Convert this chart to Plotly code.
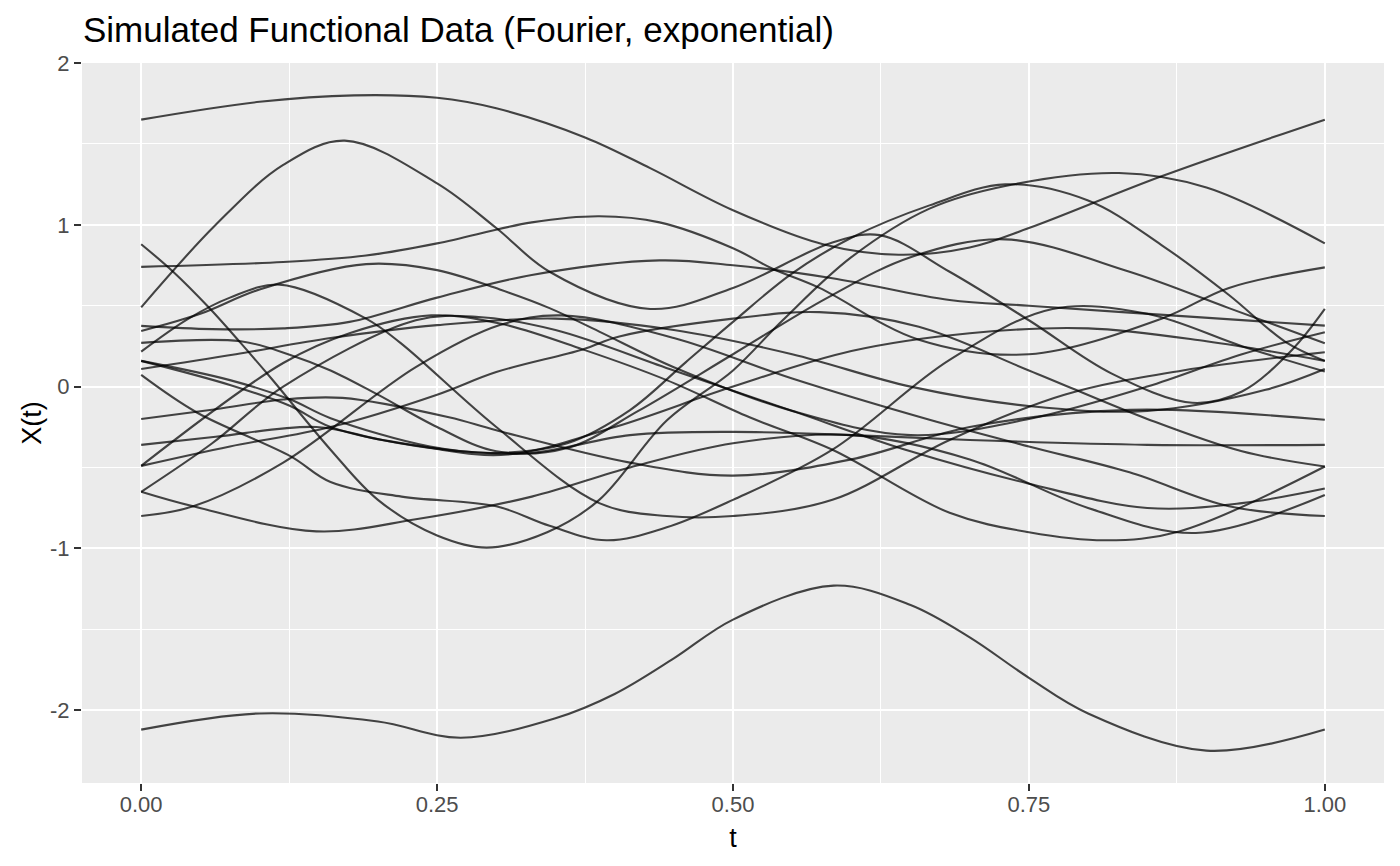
import plotly.graph_objects as go

# ---- data: each curve = knot positions (t) and values X(t) ----
c01_t = [0, 0.1, 0.18, 0.25, 0.3, 0.375, 0.43, 0.5, 0.576, 0.64, 0.7, 0.75, 0.862, 1.0]
c01_x = [1.65, 1.76, 1.80, 1.785, 1.72, 1.54, 1.35, 1.09, 0.88, 0.815, 0.86, 0.98, 1.30, 1.65]
c02_t = [0, 0.063, 0.12, 0.172, 0.25, 0.3, 0.345, 0.43, 0.5, 0.584, 0.624, 0.683, 0.75, 0.82, 0.888, 0.93, 0.972, 1]
c02_x = [0.49, 1.0, 1.37, 1.52, 1.256, 0.98, 0.71, 0.48, 0.61, 0.89, 0.936, 0.71, 0.41, 0.08, -0.10, -0.03, 0.225, 0.48]
c03_t = [0, 0.027, 0.057, 0.084, 0.11, 0.16, 0.2, 0.25, 0.292, 0.343, 0.387, 0.444, 0.5, 0.542, 0.6, 0.666, 0.73, 0.826, 0.9, 1]
c03_x = [0.88, 0.71, 0.49, 0.27, 0.05, -0.39, -0.7, -0.92, -0.995, -0.90, -0.70, -0.21, 0.10, 0.41, 0.8, 1.1, 1.24, 1.32, 1.23, 0.885]
c04_t = [0, 0.047, 0.126, 0.16, 0.22, 0.3, 0.345, 0.393, 0.444, 0.5, 0.584, 0.683, 0.77, 0.85, 0.93, 1]
c04_x = [0.072, -0.16, -0.43, -0.59, -0.68, -0.74, -0.86, -0.95, -0.87, -0.70, -0.39, 0.165, 0.48, 0.45, 0.25, 0.093]
c05_t = [0, 0.12, 0.19, 0.25, 0.33, 0.387, 0.438, 0.5, 0.533, 0.573, 0.657, 0.75, 0.862, 0.919, 1]
c05_x = [0.74, 0.77, 0.81, 0.885, 1.015, 1.053, 1.015, 0.855, 0.73, 0.61, 0.29, 0.2, 0.42, 0.61, 0.737]
c06_t = [0, 0.06, 0.12, 0.176, 0.25, 0.33, 0.438, 0.5, 0.584, 0.683, 0.75, 0.87, 1]
c06_x = [0.375, 0.355, 0.36, 0.40, 0.55, 0.69, 0.78, 0.75, 0.67, 0.535, 0.50, 0.44, 0.377]
c07_t = [0, 0.05, 0.1, 0.19, 0.25, 0.303, 0.345, 0.387, 0.45, 0.55, 0.65, 0.75, 0.85, 0.93, 1]
c07_x = [0.344, 0.45, 0.6, 0.757, 0.72, 0.6, 0.485, 0.34, 0.12, -0.15, -0.30, -0.2, 0.0, 0.2, 0.336]
c08_t = [0, 0.084, 0.126, 0.16, 0.2, 0.25, 0.3, 0.36, 0.42, 0.5, 0.58, 0.65, 0.73, 0.835, 0.919, 1]
c08_x = [0.27, 0.28, 0.196, 0.10, -0.05, -0.25, -0.40, -0.38, -0.15, 0.2, 0.55, 0.8, 0.91, 0.71, 0.485, 0.268]
c09_t = [0, 0.04, 0.075, 0.117, 0.19, 0.219, 0.3, 0.387, 0.444, 0.5, 0.584, 0.683, 0.78, 0.88, 1]
c09_x = [0.216, 0.42, 0.55, 0.63, 0.42, 0.27, -0.25, -0.72, -0.80, -0.80, -0.70, -0.33, -0.05, 0.10, 0.212]
c10_t = [0, 0.075, 0.126, 0.16, 0.244, 0.3, 0.36, 0.413, 0.46, 0.5, 0.55, 0.6, 0.666, 0.73, 0.8, 0.862, 0.919, 0.967, 1]
c10_x = [0.159, 0.04, -0.08, -0.195, -0.37, -0.41, -0.35, -0.145, 0.15, 0.4, 0.7, 0.92, 1.12, 1.25, 1.15, 0.875, 0.566, 0.275, 0.159]
c11_t = [0, 0.075, 0.126, 0.16, 0.244, 0.31, 0.4, 0.5, 0.6, 0.7, 0.8, 0.9, 1]
c11_x = [0.159, 0.01, -0.12, -0.25, -0.38, -0.42, -0.25, 0.0, 0.22, 0.33, 0.36, 0.28, 0.159]
c12_t = [0, 0.08, 0.16, 0.25, 0.35, 0.45, 0.55, 0.65, 0.75, 0.85, 0.95, 1]
c12_x = [0.109, 0.2, 0.3, 0.38, 0.42, 0.35, 0.2, 0.0, -0.12, -0.15, -0.02, 0.109]
c13_t = [0, 0.063, 0.12, 0.17, 0.26, 0.3, 0.413, 0.5, 0.6, 0.7, 0.835, 1]
c13_x = [-0.20, -0.14, -0.08, -0.07, -0.19, -0.27, -0.47, -0.55, -0.45, -0.25, -0.144, -0.205]
c14_t = [0, 0.063, 0.148, 0.204, 0.27, 0.33, 0.413, 0.5, 0.6, 0.7, 0.85, 1]
c14_x = [-0.36, -0.31, -0.25, -0.33, -0.40, -0.41, -0.3, -0.28, -0.3, -0.33, -0.36, -0.36]
c15_t = [0, 0.075, 0.16, 0.25, 0.3, 0.373, 0.404, 0.5, 0.573, 0.657, 0.75, 0.85, 0.93, 1]
c15_x = [-0.49, -0.37, -0.25, -0.05, 0.09, 0.23, 0.31, 0.42, 0.46, 0.37, 0.1, -0.2, -0.4, -0.494]
c16_t = [0, 0.12, 0.176, 0.245, 0.303, 0.373, 0.444, 0.514, 0.584, 0.683, 0.75, 0.815, 0.877, 1]
c16_x = [-0.49, 0.146, 0.33, 0.44, 0.39, 0.23, 0.04, -0.19, -0.39, -0.78, -0.90, -0.95, -0.895, -0.494]
c17_t = [0, 0.06, 0.12, 0.232, 0.285, 0.35, 0.45, 0.55, 0.65, 0.75, 0.85, 0.93, 1]
c17_x = [-0.65, -0.35, 0.0, 0.41, 0.43, 0.35, 0.1, -0.15, -0.4, -0.6, -0.75, -0.72, -0.63]
c18_t = [0, 0.044, 0.148, 0.232, 0.33, 0.413, 0.5, 0.6, 0.7, 0.8, 0.891, 1]
c18_x = [-0.65, -0.74, -0.895, -0.82, -0.68, -0.5, -0.35, -0.3, -0.45, -0.75, -0.905, -0.67]
c19_t = [0, 0.044, 0.12, 0.232, 0.303, 0.355, 0.45, 0.55, 0.666, 0.75, 0.835, 0.919, 1]
c19_x = [-0.80, -0.74, -0.47, 0.12, 0.38, 0.44, 0.3, 0.05, -0.205, -0.37, -0.53, -0.74, -0.80]
c20_t = [0, 0.1, 0.2, 0.27, 0.35, 0.4, 0.45, 0.5, 0.585, 0.65, 0.7, 0.75, 0.8, 0.9, 1]
c20_x = [-2.12, -2.02, -2.07, -2.17, -2.05, -1.9, -1.68, -1.44, -1.23, -1.35, -1.55, -1.8, -2.02, -2.25, -2.12]

curves = [
    (c01_t, c01_x), (c02_t, c02_x), (c03_t, c03_x), (c04_t, c04_x), (c05_t, c05_x),
    (c06_t, c06_x), (c07_t, c07_x), (c08_t, c08_x), (c09_t, c09_x), (c10_t, c10_x),
    (c11_t, c11_x), (c12_t, c12_x), (c13_t, c13_x), (c14_t, c14_x), (c15_t, c15_x),
    (c16_t, c16_x), (c17_t, c17_x), (c18_t, c18_x), (c19_t, c19_x), (c20_t, c20_x),
]

x_ticks = [0, 0.25, 0.5, 0.75, 1.0]
x_tick_labels = ["0.00", "0.25", "0.50", "0.75", "1.00"]
y_ticks = [-2, -1, 0, 1, 2]
y_tick_labels = ["-2", "-1", "0", "1", "2"]

FONT = "Liberation Sans, Arial, Helvetica, sans-serif"

# the page body has an 8px default margin, so the figure is sized to fit inside it
W, H = 1392, 858

fig = go.Figure()
for t, x in curves:
    fig.add_trace(go.Scatter(
        x=t, y=x, mode="lines",
        line=dict(color="rgba(0,0,0,0.72)", width=2.1, shape="spline", smoothing=1.0),
        hoverinfo="skip", showlegend=False,
    ))

fig.update_layout(
    width=W, height=H,
    margin=dict(l=74, r=16, t=55, b=83),
    paper_bgcolor="white",
    plot_bgcolor="#EBEBEB",
    font=dict(family=FONT, color="#4D4D4D"),
    title=dict(
        text="Simulated Functional Data (Fourier, exponential)",
        x=75 / W, xanchor="left", xref="container",
        y=1 - 22 / H, yanchor="middle", yref="container",
        font=dict(family=FONT, size=35, color="black"),
    ),
    showlegend=False,
)

fig.update_xaxes(
    range=[-0.05, 1.05], automargin=False,
    tickmode="array", tickvals=x_ticks, ticktext=x_tick_labels,
    ticks="outside", ticklen=7, tickwidth=2, tickcolor="#333333",
    ticklabelstandoff=-5,
    tickfont=dict(family=FONT, size=22, color="#4D4D4D"),
    showgrid=True, gridcolor="white", gridwidth=2.2,
    minor=dict(tickvals=[0.125, 0.375, 0.625, 0.875], showgrid=True, gridcolor="white", gridwidth=1.1, ticks=""),
    zeroline=False, showline=False,
    title=dict(text="t", font=dict(family=FONT, size=27, color="black"), standoff=11),
)
fig.update_yaxes(
    range=[-2.45, 2.0], automargin=False,
    tickmode="array", tickvals=y_ticks, ticktext=y_tick_labels,
    ticks="outside", ticklen=7, tickwidth=2, tickcolor="#333333",
    tickfont=dict(family=FONT, size=22, color="#4D4D4D"),
    showgrid=True, gridcolor="white", gridwidth=2.2,
    minor=dict(tickvals=[-1.5, -0.5, 0.5, 1.5], showgrid=True, gridcolor="white", gridwidth=1.1, ticks=""),
    zeroline=False, showline=False,
    title=dict(text="X(t)", font=dict(family=FONT, size=27, color="black"), standoff=0),
)

fig.write_html("out.html")
